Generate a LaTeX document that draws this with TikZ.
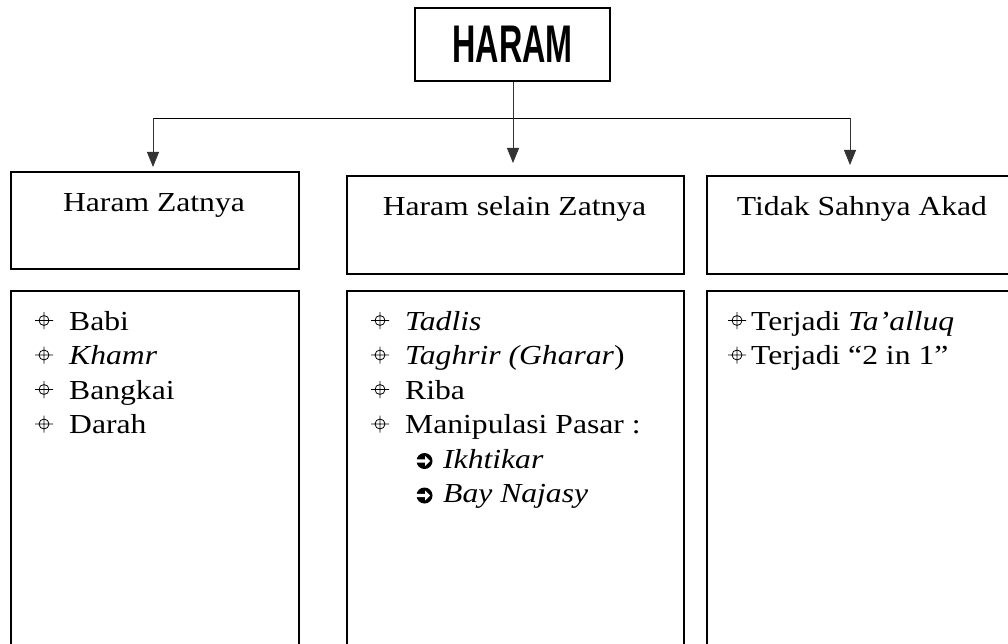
\documentclass[tikz,border=0pt]{standalone}
\usepackage{fontspec}
\setmainfont{Liberation Serif}[FakeStretch=1.15]
\newfontfamily\titlefont{Liberation Sans Bold}[FakeStretch=0.61]
\usetikzlibrary{arrows.meta}
\newcommand{\bodysize}{\fontsize{27.5pt}{34.5pt}\selectfont}
\tikzset{
  box/.style={draw, line width=2.2pt, anchor=north west, inner sep=0pt},
  lbl/.style={anchor=base, inner sep=0pt, font=\bodysize},
  item/.style={anchor=base west, inner sep=0pt, font=\bodysize},
  conn/.style={line width=0.8pt},
  arr/.style={conn, draw=black!80, -{Triangle[length=15pt,width=12pt]}},
  tgt/.pic={\draw[line width=0.8pt] (0,0) circle[radius=5pt] (-9,0) -- (9,0) (0,-8.5) -- (0,8.5);},
  darr/.pic={\fill (0,0) circle[radius=8pt];
             \fill[white] (-9,-1.6) -- (0.6,-1.6) -- (0.6,-4.9) -- (5.6,0) -- (0.6,4.9) -- (0.6,1.6) -- (-9,1.6) -- cycle;}
}
\begin{document}
\begin{tikzpicture}[x=1pt,y=-1pt]
\useasboundingbox (0,0) rectangle (1008,644);
\begin{scope}
\clip (0,0) rectangle (1008,644);
% title
\node[draw, line width=2pt, minimum width=195pt, minimum height=73pt, inner sep=0pt,
      font=\titlefont\fontsize{53pt}{53pt}\selectfont] (title) at (512.5,44.5) {HARAM};
% header boxes
\node[box, minimum width=288pt, minimum height=97pt] (b1) at (10,171) {};
\node[box, minimum width=337pt, minimum height=98pt] (b2) at (346,175) {};
\node[box, minimum width=312pt, minimum height=98pt] (b3) at (706,175) {};
\node[lbl] (t1) at (154,212) {Haram Zatnya};
\node[lbl] (t2) at (514.5,216) {Haram selain Zatnya};
\node[lbl] (t3) at (862,215) {Tidak Sahnya Akad};
% list boxes
\node[box, minimum width=288pt, minimum height=380pt] (c1) at (10,290) {};
\node[box, minimum width=337pt, minimum height=380pt] (c2) at (346,290) {};
\node[box, minimum width=312pt, minimum height=380pt] (c3) at (706,290) {};
% connectors
\coordinate (hl) at (153,118);
\coordinate (hm) at (513,118);
\coordinate (hr) at (850,118);
\draw[conn] (hl) -- (hr);
\draw[arr, shorten >=4pt] (hl) -- (hl |- b1.north);
\draw[arr, shorten >=12pt] (title.south -| hm) -- (hm |- b2.north);
\draw[arr, shorten >=10pt] (hr) -- (hr |- b3.north);
% list 1
\pic at (44,320.5) {tgt};
\node[item] (l11) at (69,330) {Babi};
\pic at (44,355) {tgt};
\node[item] (l12) at (69,364.5) {\itshape Khamr};
\pic at (44,389.5) {tgt};
\node[item] (l13) at (69,399) {Bangkai};
\pic at (44,424) {tgt};
\node[item] (l14) at (69,433.5) {Darah};
% list 2
\pic at (380,320.5) {tgt};
\node[item] (l21) at (405,330) {\itshape Tadlis};
\pic at (380,355) {tgt};
\node[item] (l22) at (405,364.5) {\itshape Taghrir (Gharar\upshape)};
\pic at (380,389.5) {tgt};
\node[item] (l23) at (405,399) {Riba};
\pic at (380,424) {tgt};
\node[item] (l24) at (405,433.5) {Manipulasi Pasar :};
\pic at (424.5,461) {darr};
\node[item] (l25) at (443,468) {\itshape Ikhtikar};
\pic at (424.5,495.5) {darr};
\node[item] (l26) at (443,502.5) {\itshape Bay Najasy};
% list 3
\pic at (737,320.5) {tgt};
\node[item] (l31) at (751,330) {Terjadi \itshape Ta’alluq};
\pic at (737,355) {tgt};
\node[item] (l32) at (751,364.5) {Terjadi “2 in 1”};
\end{scope}
\end{tikzpicture}
\end{document}
